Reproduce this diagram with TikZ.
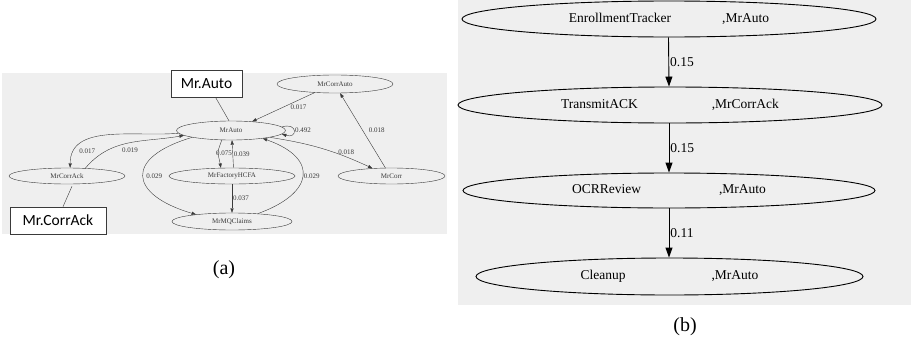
\documentclass[tikz,border=0pt]{standalone}
\usepackage{fontspec}
\setmainfont{Liberation Serif}
\newfontfamily\calloutfont{Carlito}
\usetikzlibrary{arrows.meta,shapes.geometric}
\definecolor{panel}{HTML}{EFEFEF}
\definecolor{ink}{HTML}{3A3A3A}
\tikzset{line width=.5pt,
  every node/.style={font=\fontsize{7}{8}\selectfont,text=ink},
  state/.style={ellipse,draw=ink,inner sep=0pt},
  edge/.style={-{Triangle[length=4.5pt,width=3.2pt]},draw=ink},
  lbl/.style={inner sep=1pt},
  callout/.style={draw=ink,fill=white,line width=.6pt,inner sep=0pt,text=black,
    font=\calloutfont\fontsize{15.5}{18}\selectfont},
  bigstate/.style={ellipse,draw=black,line width=.9pt,inner sep=0pt,text=black,
    font=\fontsize{13.5}{16}\selectfont},
  bigedge/.style={-{Triangle[length=10pt,width=7pt]},draw=black,line width=.9pt},
  biglbl/.style={inner sep=1pt,text=black,font=\fontsize{13.5}{16}\selectfont},
  caption/.style={text=black,font=\fontsize{20}{24}\selectfont}}

\begin{document}
\begin{tikzpicture}[x=1pt,y=-1pt]
\useasboundingbox (0,0) rectangle (911,351);
\fill[panel] (2,73) rectangle (447,234);
\fill[panel] (458,0) rectangle (911,305);

\node[state,minimum width=109pt,minimum height=19pt] (auto) at (231,130.5) {MrAuto};
\node[state,minimum width=116pt,minimum height=18pt] (corrauto) at (335,84) {MrCorrAuto};
\node[state,minimum width=116pt,minimum height=16pt] (corrack) at (67,176) {MrCorrAck};
\node[state,minimum width=126pt,minimum height=16pt] (fac) at (232,176) {MrFactoryHCFA};
\node[state,minimum width=107pt,minimum height=16pt] (corr) at (391.5,176) {MrCorr};
\node[state,minimum width=120pt,minimum height=17pt] (mq) at (232,221.5) {MrMQClaims};
\node[callout,minimum width=71pt,minimum height=27pt] (autobox) at (206.5,83.5) {Mr.Auto};
\node[callout,minimum width=96pt,minimum height=27pt] (ackbox) at (58,220.5) {Mr.CorrAck};

\draw[ink] ([xshift=9pt]autobox.south) -- ([xshift=-2pt]auto.north);
\draw[ink] ([xshift=5pt]ackbox.north) -- ([xshift=5pt,yshift=-2pt]corrack.south);

\draw[edge] (corrauto.203) -- node[lbl,midway,right=6pt] {0.017} (auto.23);
\draw[edge] (corr.127) -- node[lbl,midway,right=5pt] {0.018} (corrauto.299);
\draw[edge] (auto.350) to[bend left=8] node[lbl,pos=.75,above=1pt] {0.018} (corr.158);
\draw[edge] (auto.4) .. controls +(16,-5) and +(16,5) .. node[lbl,pos=.5,right=0pt] {0.492} (auto.-4);
\draw[edge] (auto.183) to[out=185,in=90] node[lbl,pos=.85,right=4pt] {0.017} (corrack.69);
\draw[edge] (corrack.23) to[out=50,in=190] node[lbl,pos=.4,below right=1pt] {0.019} (auto.186);
\draw[edge] (auto.226) to[out=250,in=100,looseness=1.6] node[lbl,pos=.5,right=-3pt] {0.075} (fac.144);
\draw[edge] ([xshift=1.5pt]fac.north) -- node[lbl,midway,right=0pt] {0.039} ([xshift=1pt]auto.south);
\draw[edge] (auto.190) .. controls +(-68,20) and +(-68,-20) .. node[lbl,pos=.5,right=2pt] {0.029} (mq.169);
\draw[edge] (mq.17) .. controls +(56,-20) and +(57,20) .. node[lbl,pos=.5,right=0pt] {0.029} (auto.346);
\draw[edge] (fac.south) -- node[lbl,midway,right=0pt] {0.037} (mq.north);

\node[bigstate,minimum width=414pt,minimum height=36pt] (enroll) at (669,19) {EnrollmentTracker\hspace{51pt},MrAuto};
\node[bigstate,minimum width=424pt,minimum height=36pt] (transmit) at (670,105) {TransmitACK\hspace{74pt},MrCorrAck};
\node[bigstate,minimum width=412pt,minimum height=35pt] (ocr) at (669,190.5) {OCRReview\hspace{78pt},MrAuto};
\node[bigstate,minimum width=387pt,minimum height=37pt] (cleanup) at (669.5,276.5) {Cleanup\hspace{86pt},MrAuto};

\draw[bigedge] ([xshift=-.5pt]enroll.south) -- node[biglbl,midway,right=0pt] {0.15} ([xshift=-1pt]transmit.north);
\draw[bigedge] ([xshift=-1pt]transmit.south) -- node[biglbl,midway,right=0pt] {0.15} (ocr.north);
\draw[bigedge] (ocr.south) -- node[biglbl,midway,right=0pt] {0.11} ([xshift=-.5pt]cleanup.north);

\node[caption] (capa) at (224,270) {(a)};
\node[caption] (capb) at (685,327) {(b)};
\end{tikzpicture}
\end{document}
